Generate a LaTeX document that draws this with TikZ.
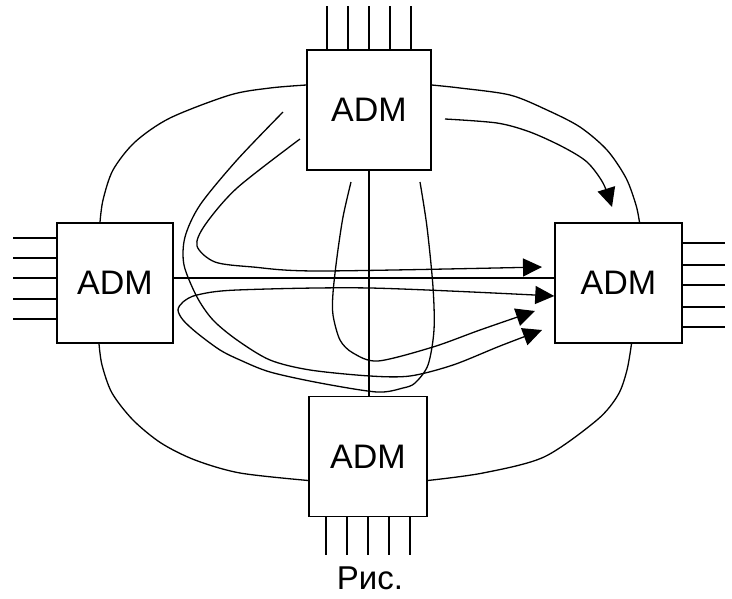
\documentclass[tikz,border=0pt]{standalone}
\usepackage{fontspec}
\setmainfont{Liberation Sans}
\usetikzlibrary{arrows.meta,calc}
\tikzset{
  adm/.style={
    draw, line width=1.5pt, minimum width=120pt, minimum height=120pt,
    inner sep=0pt, font=\fontsize{34}{40}\selectfont
  },
  pin/.style={line width=1.5pt},
  ring/.style={line width=1.3pt},
  arr/.style={ring, -{Triangle[length=19pt,width=18pt]}},
  capt/.style={font=\fontsize{33}{38}\selectfont, inner sep=0pt, anchor=base}
}
\begin{document}
\begin{tikzpicture}[x=1pt,y=-1pt]
  \useasboundingbox (0,0) rectangle (732,598);
  \node[adm, minimum width=124pt] (tadm) at (369,110) {ADM};
  \node[adm, minimum width=116pt] (ladm) at (115,283) {ADM};
  \node[adm, minimum width=127pt] (radm) at (618.5,283) {ADM};
  \node[adm, minimum width=118pt] (badm) at (368,456.5) {ADM};
  \node[capt] (cap) at (370,589) {Рис.};
  % tributary pins
  \foreach \d in {-42,-21,0,21,42} {
    \draw[pin] ($(tadm.north)+(\d,0)$) -- ++(0,-43);
    \draw[pin] ($(badm.south)+(\d,0)$) -- ++(0,38);
  }
  \foreach \d in {-45,-25,-5,16,36}
    \draw[pin] ($(ladm.west)+(0,\d)$) -- ++(-43,0);
  \foreach \d in {-40,-18,2,24,44}
    \draw[pin] ($(radm.east)+(0,\d)$) -- ++(42,0);
  % ring ends
  \coordinate (tl) at ($(tadm.west)+(0,-25)$);
  \coordinate (tr) at ($(tadm.east)+(0,-25)$);
  \coordinate (lt) at ($(ladm.north)+(-15,0)$);
  \coordinate (lb) at ($(ladm.south)+(-16,0)$);
  \coordinate (rt) at ($(radm.north)+(21,0)$);
  \coordinate (rb) at ($(radm.south)+(13,0)$);
  \coordinate (bl) at ($(badm.west)+(0,24)$);
  \coordinate (br) at ($(badm.east)+(0,24)$);
  % route ends
  \coordinate (r1a) at (445,119);
  \coordinate (r1b) at (612,207);
  \coordinate (r2a) at (300,139);
  \coordinate (r2b) at (542,267);
  \coordinate (r3a) at (283,112);
  \coordinate (r3b) at (542,330);
  \coordinate (r4a) at (351,182);
  \coordinate (r4b) at (535,311);
  \coordinate (r5a) at (420,182);
  \coordinate (r5b) at ($(radm.west)+(0,13)$);
  % ring
  \draw[ring] plot[smooth] coordinates {(tl) (270,88) (230,95) (170,118) (135,142) (113,170) (103,200) (lt)};
  \draw[ring] plot[smooth] coordinates {(tr) (460,88) (510,95) (547,110) (580,127) (607,150) (626,178) (636,205) (rt)};
  \draw[ring] plot[smooth] coordinates {(lb) (102,365) (112,393) (133,420) (161,443) (195,460) (240,473) (bl)};
  \draw[ring] plot[smooth] coordinates {(br) (483,473) (544,457) (597,420) (618,395) (627,370) (rb)};
  \draw[ring] ($(ladm.east)+(0,-5)$) -- ($(radm.west)+(0,-5)$);
  \draw[ring] (tadm.south) -- (tadm.south |- badm.north);
  % routes
  \draw[arr] plot[smooth] coordinates {(r1a) (497,123) (530,132) (563,147) (587,162) (603,183) (r1b)};
  \draw[arr] plot[smooth] coordinates {(r2a) (237,188) (205,225) (197,246) (215,262) (253,267) (320,271) (r2b)};
  \draw[arr] plot[smooth] coordinates {(r3a) (237,160) (200,205) (185,237) (184,265) (197,297) (213,320) (237,340) (270,360) (310,370) (370,376) (410,376) (453,365) (500,346) (r3b)};
  \draw[arr] plot[smooth] coordinates {(r4a) (343,217) (337,257) (333,293) (333,315) (340,340) (353,353) (378,361) (433,347) (480,330) (r4b)};
  \draw[arr] plot[smooth] coordinates {(r5a) (427,227) (433,287) (434,330) (428,365) (415,383) (403,388) (377,392) (320,383) (270,372) (240,360) (220,350) (197,333) (183,320) (178,310) (183,302) (197,295) (237,290) (370,288) (r5b)};
\end{tikzpicture}
\end{document}
